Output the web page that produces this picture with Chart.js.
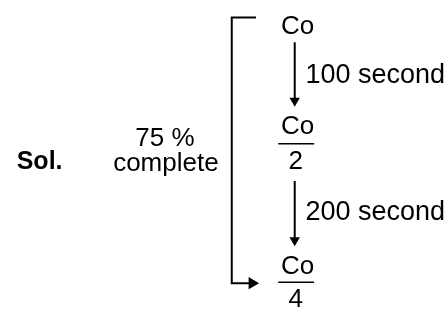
<!DOCTYPE html>
<html>
<head>
<meta charset="utf-8">
<script src="https://cdn.jsdelivr.net/npm/chart.js@4/dist/chart.umd.min.js"></script>
<style>
  html, body { margin: 0; padding: 0; background: #fff; }
  #wrap { width: 448px; height: 315px; }
</style>
</head>
<body>
<div id="wrap"><canvas id="grafico" width="448" height="315"></canvas></div>
<script>
// diagram content
var numerators = ['Co', 'Co', 'Co'];
var denominators = ['', '2', '4'];
var stepLabels = ['100 second', '200 second'];
var sideLabel = ['75 %', 'complete'];
var title = 'Sol.';

// positions in diagram units (y grows downward, text at baseline)
var nodeX = 300;
var nodeBase = [28, 133, 279];
var denomBase = [0, 170, 314];
var fracLineY = [0, 143, 288];
var stepBase = [80, 223];
var shaftX = 297;
var shaftTop = [37, 182];
var shaftTip = [104, 250];
var bracketX = 232;
var bracketTop = 11;
var bracketBottom = 289;
var bracketTopEnd = 257;
var bracketTip = 260;

var FONT = '26px "Liberation Sans", Arial, sans-serif';

var datasets = [];
// arrow shafts between levels
for (var i = 0; i < stepLabels.length; i++) {
    datasets.push({
        type: 'line',
        data: [{x: shaftX, y: shaftTop[i]}, {x: shaftX, y: shaftTip[i] - 7}],
        borderColor: '#000', borderWidth: 2, pointRadius: 0
    });
    datasets.push({
        type: 'scatter',
        data: [{x: shaftX, y: shaftTip[i] - 6}],
        pointStyle: 'triangle', rotation: 180, pointRadius: 6,
        backgroundColor: '#000', borderColor: '#000', borderWidth: 0
    });
}
// bracket
datasets.push({
    type: 'line',
    data: [{x: bracketTopEnd, y: bracketTop}, {x: bracketX, y: bracketTop},
           {x: bracketX, y: bracketBottom}, {x: bracketTip - 8, y: bracketBottom}],
    borderColor: '#000', borderWidth: 2, pointRadius: 0, tension: 0
});
datasets.push({
    type: 'scatter',
    data: [{x: bracketTip - 7, y: bracketBottom}],
    pointStyle: 'triangle', rotation: 90, pointRadius: 7,
    backgroundColor: '#000', borderColor: '#000', borderWidth: 0
});

var textPlugin = {
    id: 'textos',
    afterDraw: function (chart) {
        var ctx = chart.ctx;
        var sx = chart.scales.x, sy = chart.scales.y;
        ctx.save();
        ctx.fillStyle = '#000';
        ctx.strokeStyle = '#000';
        ctx.textBaseline = 'alphabetic';
        ctx.font = FONT;
        // nodes
        for (var i = 0; i < numerators.length; i++) {
            var px = sx.getPixelForValue(nodeX);
            ctx.textAlign = 'center';
            ctx.fillText(numerators[i], px, sy.getPixelForValue(nodeBase[i]));
            if (denominators[i]) {
                var lineY = sy.getPixelForValue(fracLineY[i]);
                ctx.lineWidth = 1.5;
                ctx.beginPath();
                ctx.moveTo(sx.getPixelForValue(280), lineY);
                ctx.lineTo(sx.getPixelForValue(317), lineY);
                ctx.stroke();
                ctx.fillText(denominators[i], px - 2, sy.getPixelForValue(denomBase[i]));
            }
        }
        // step labels
        ctx.textAlign = 'left';
        ctx.font = '27px "Liberation Sans", Arial, sans-serif';
        for (var j = 0; j < stepLabels.length; j++) {
            ctx.fillText(stepLabels[j], sx.getPixelForValue(shaftX + 11), sy.getPixelForValue(stepBase[j]));
        }
        // side label
        ctx.font = FONT;
        ctx.textAlign = 'center';
        ctx.fillText(sideLabel[0], sx.getPixelForValue(163), sy.getPixelForValue(145));
        ctx.fillText(sideLabel[1], sx.getPixelForValue(164), sy.getPixelForValue(172));
        // title
        ctx.textAlign = 'left';
        ctx.font = 'bold 25px "Liberation Sans", Arial, sans-serif';
        ctx.fillText(title, sx.getPixelForValue(10), sy.getPixelForValue(170));
        ctx.restore();
    }
};

var grafico = document.getElementById('grafico');
var chart = new Chart(grafico, {
    type: 'scatter',
    data: { datasets: datasets },
    options: {
        responsive: false,
        animation: false,
        layout: { padding: 0 },
        plugins: { legend: { display: false }, tooltip: { enabled: false } },
        scales: {
            x: { type: 'linear', min: 0, max: 448, display: false },
            y: { type: 'linear', min: 0, max: 315, reverse: true, display: false }
        }
    },
    plugins: [textPlugin]
});
</script>
</body>
</html>
